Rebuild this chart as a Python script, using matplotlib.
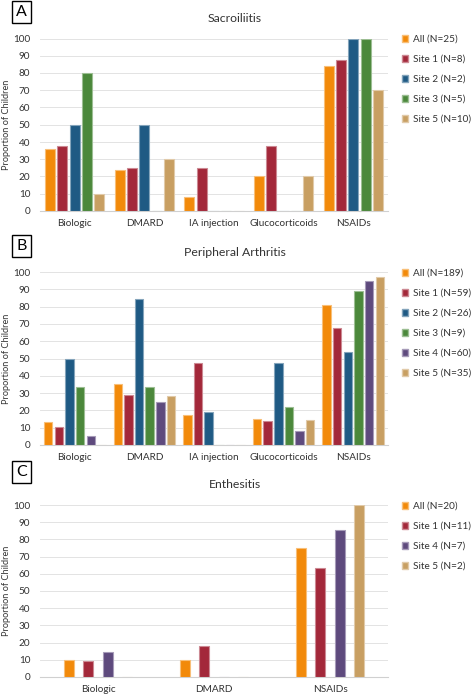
import numpy as np
import matplotlib
matplotlib.use("Agg")
from matplotlib import pyplot as plt
from matplotlib.patches import Patch

plt.rcParams['font.family'] = ['Lato', 'DejaVu Sans']

# panel A - sacroiliitis
cats_a = ["Biologic", "DMARD", "IA injection", "Glucocorticoids", "NSAIDs"]
series_a = ["All (N=25)", "Site 1 (N=8)", "Site 2 (N=2)", "Site 3 (N=5)", "Site 5 (N=10)"]
all_a = [36, 24, 8, 20, 84]
site1_a = [37.5, 25, 25, 37.5, 87.5]
site2_a = [50, 50, 0, 0, 100]
site3_a = [80, 0, 0, 0, 100]
site5_a = [10, 30, 0, 20, 70]

# panel B - peripheral arthritis
cats_b = ["Biologic", "DMARD", "IA injection", "Glucocorticoids", "NSAIDs"]
series_b = ["All (N=189)", "Site 1 (N=59)", "Site 2 (N=26)", "Site 3 (N=9)",
            "Site 4 (N=60)", "Site 5 (N=35)"]
all_b = [13.2, 35.4, 17.5, 15.3, 81]
site1_b = [10.2, 28.8, 47.5, 13.6, 67.8]
site2_b = [50, 84.6, 19.2, 47.5, 53.8]
site3_b = [33.3, 33.3, 0, 22.2, 88.9]
site4_b = [5, 25, 0, 8.3, 95]
site5_b = [0, 28.6, 0, 14.3, 97.1]

# panel C - enthesitis
cats_c = ["Biologic", "DMARD", "NSAIDs"]
series_c = ["All (N=20)", "Site 1 (N=11)", "Site 4 (N=7)", "Site 5 (N=2)"]
all_c = [10, 10, 75]
site1_c = [9.1, 18.2, 63.6]
site4_c = [14.3, 0, 85.7]
site5_c = [0, 0, 100]

ORANGE = "#f28a0a"
RED = "#a3283a"
BLUE = "#1f5a84"
GREEN = "#4b883b"
PURPLE = "#5e4a7d"
TAN = "#c89f62"

def lighten(c, f=0.45):
    rgb = np.array(matplotlib.colors.to_rgb(c))
    return tuple(rgb + (1 - rgb) * f)

W, H = 473, 696
fig = plt.figure(figsize=(W / 100, H / 100), dpi=100)


def panel(letter, title, y0, y100, cats, names, values, colors, step, width,
          leg_top, title_y, letter_y):
    ax = fig.add_axes([40 / W, 1 - y0 / H, 348 / W, (y0 - y100) / H])
    x = np.arange(len(cats))
    n = len(names)
    for i, (vals, col) in enumerate(zip(values, colors)):
        off = (i - (n - 1) / 2) * step
        ax.bar(x + off, vals, width, color=col, edgecolor=lighten(col),
               linewidth=0.8, zorder=3)
    ax.set_xlim(-0.5, len(cats) - 0.5)
    ax.set_ylim(0, 100)
    ax.set_yticks(range(0, 101, 10))
    ax.set_xticks(x)
    ax.set_xticklabels(cats, fontsize=7.2, color="#333333")
    ax.tick_params(axis='y', length=0, pad=7, labelsize=7.2, labelcolor="#333333")
    ax.tick_params(axis='x', length=0, pad=6)
    ax.grid(axis='y', color="#e3e3e3", linewidth=0.7, zorder=0)
    for s in ["left", "right", "top"]:
        ax.spines[s].set_visible(False)
    ax.spines["bottom"].set_color("#d0d0d0")
    ax.spines["bottom"].set_linewidth(0.8)
    ax.set_ylabel("Proportion of Children", fontsize=6.6, color="#333333")
    ax.yaxis.set_label_coords(-29 / 348, 0.5)

    handles = [Patch(facecolor=c, edgecolor=lighten(c)) for c in colors]
    fig.legend(handles, names, loc="upper left",
               bbox_to_anchor=(402 / W, 1 - leg_top / H), frameon=False,
               fontsize=7.2, handlelength=0.6, handleheight=0.6,
               handletextpad=0.45, labelspacing=1.1, borderaxespad=0,
               borderpad=0, labelcolor="#333333")

    fig.text(235 / W, 1 - title_y / H, title, ha="center", va="center",
             fontsize=8.8, color="#333333")
    fig.text(21.5 / W, 1 - letter_y / H, letter, ha="center", va="center",
             fontsize=11.5, color="black",
             bbox=dict(boxstyle="square,pad=0.25", facecolor="white",
                       edgecolor="black", linewidth=1.0))
    return ax


panel("A", "Sacroiliitis", 211, 38.5, cats_a, series_a,
      [all_a, site1_a, site2_a, site3_a, site5_a],
      [ORANGE, RED, BLUE, GREEN, TAN], 0.177, 0.144, 35, 18, 12)

panel("B", "Peripheral Arthritis", 445, 272, cats_b, series_b,
      [all_b, site1_b, site2_b, site3_b, site4_b, site5_b],
      [ORANGE, RED, BLUE, GREEN, PURPLE, TAN], 0.153, 0.122, 269, 253, 246)

panel("C", "Enthesitis", 677, 505, cats_c, series_c,
      [all_c, site1_c, site4_c, site5_c],
      [ORANGE, RED, PURPLE, TAN], 0.167, 0.086, 502, 485, 472)

fig.savefig("out.png", dpi=100)
